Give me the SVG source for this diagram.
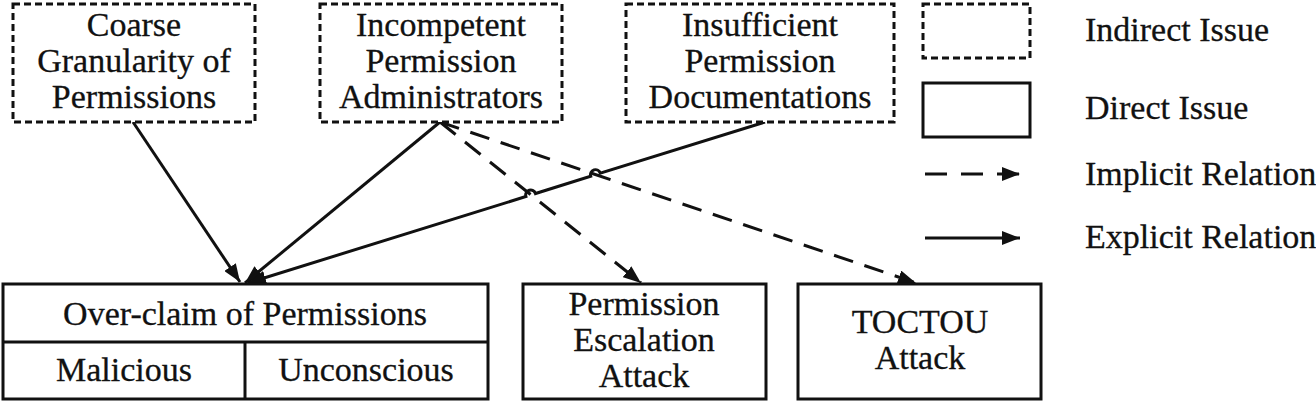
<svg xmlns="http://www.w3.org/2000/svg" width="1316" height="405" viewBox="0 0 1316 405">
<style>
text{font-family:"Liberation Serif","Times New Roman",serif;font-size:34px;fill:#111;text-anchor:middle;stroke:#111;stroke-width:0.3}
.lg{text-anchor:start}
.ind{fill:#fff;stroke:#111;stroke-width:3;stroke-dasharray:7 4}
.dir{fill:#fff;stroke:#111;stroke-width:3}
.sol{fill:none;stroke:#111;stroke-width:3}
.dsh{fill:none;stroke:#111;stroke-width:3;stroke-dasharray:20 12}
</style>
<defs>
<marker id="ah" markerUnits="userSpaceOnUse" markerWidth="20" markerHeight="14" refX="18" refY="7" orient="auto">
<path d="M0,0 L18,7 L0,14 Z" fill="#111"/>
</marker>
</defs>
<rect width="1316" height="405" fill="#fff"/>
<g id="connectors">
<path class="sol" d="M133,122 L240,282" marker-end="url(#ah)"/>
<path class="sol" d="M440,122 L245,283" marker-end="url(#ah)"/>
<path class="sol" d="M765,122 L600.3,173.2 A5,5 0 0 0 590.7,176.2 L535.5,193.5 A5,5 0 0 0 525.9,196.5 L248,283" marker-end="url(#ah)"/>
<path class="dsh" d="M440,122 L641,283" marker-end="url(#ah)"/>
<path class="dsh" d="M440,122 L916,283" marker-end="url(#ah)"/>
</g>
<g id="coarse">
<rect class="ind" x="13" y="4" width="242" height="118"/>
<text x="134" y="36">Coarse</text>
<text x="134" y="72">Granularity of</text>
<text x="134" y="108">Permissions</text>
</g>
<g id="incompetent">
<rect class="ind" x="320" y="4" width="242" height="118"/>
<text x="441" y="36">Incompetent</text>
<text x="441" y="72">Permission</text>
<text x="441" y="108">Administrators</text>
</g>
<g id="insufficient">
<rect class="ind" x="626" y="4" width="268" height="118"/>
<text x="760" y="36">Insufficient</text>
<text x="760" y="72">Permission</text>
<text x="760" y="108">Documentations</text>
</g>
<g id="overclaim">
<rect class="dir" x="3" y="284" width="485" height="115"/>
<line class="sol" x1="3" y1="342" x2="488" y2="342"/>
<line class="sol" x1="245" y1="342" x2="245" y2="399"/>
<text x="245" y="325">Over-claim of Permissions</text>
<text x="124" y="381">Malicious</text>
<text x="366" y="381">Unconscious</text>
</g>
<g id="escalation">
<rect class="dir" x="523" y="284" width="243" height="115"/>
<text x="644" y="315">Permission</text>
<text x="644" y="351">Escalation</text>
<text x="644" y="387">Attack</text>
</g>
<g id="toctou">
<rect class="dir" x="798" y="284" width="243" height="115"/>
<text x="920" y="333">TOCTOU</text>
<text x="920" y="369">Attack</text>
</g>
<g id="legend">
<rect class="ind" x="923" y="4" width="107" height="54"/>
<rect class="dir" x="923" y="83" width="107" height="54"/>
<path class="dsh" d="M925,174 L1020,174" marker-end="url(#ah)" style="stroke-dasharray:22 14"/>
<path class="sol" d="M925,238 L1020,238" marker-end="url(#ah)"/>
<text class="lg" x="1085" y="41">Indirect Issue</text>
<text class="lg" x="1085" y="119">Direct Issue</text>
<text class="lg" x="1085" y="185">Implicit Relation</text>
<text class="lg" x="1085" y="248">Explicit Relation</text>
</g>
</svg>
